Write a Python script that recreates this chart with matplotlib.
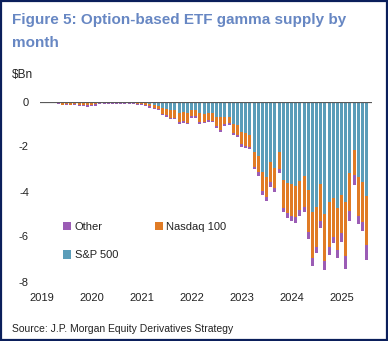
import matplotlib
matplotlib.use("Agg")
import matplotlib.pyplot as plt
from matplotlib.patches import Rectangle
import numpy as np

plt.rcParams["font.family"] = ["Liberation Sans", "DejaVu Sans"]
plt.rcParams["axes.unicode_minus"] = False

# Monthly gamma supply in $Bn, first month = Jan 2019 + start_month
start_month = 4
spx = [0.01, 0.02, 0.02, 0.02, 0.02, 0.02, 0.02, 0.02, 0.02, 0.02,
       0.02, 0.02, 0.02, 0.02, 0.02, 0.02, 0.02, 0.02, 0.02, 0.03,
       0.03, 0.05, 0.10, 0.15, 0.20, 0.29, 0.35, 0.39, 0.39, 0.50,
       0.47, 0.50, 0.39, 0.39, 0.52, 0.54, 0.50, 0.51, 0.68, 0.70,
       0.70, 0.68, 1.00, 1.04, 1.34, 1.41, 1.49, 2.23, 2.41, 3.15,
       3.34, 2.70, 2.97, 2.23, 3.49, 3.64, 3.67, 3.76, 3.52, 3.31,
       3.93, 4.90, 4.67, 3.67, 5.00, 4.45, 4.30, 4.75, 4.16, 4.45,
       3.16, 2.17, 3.36, 3.56, 4.22]
ndx = [0.06, 0.12, 0.10, 0.12, 0.10, 0.14, 0.13, 0.14, 0.12, 0.09,
       0.03, 0.03, 0.04, 0.04, 0.04, 0.05, 0.05, 0.04, 0.06, 0.08,
       0.09, 0.10, 0.11, 0.12, 0.12, 0.25, 0.26, 0.33, 0.34, 0.41,
       0.41, 0.44, 0.27, 0.27, 0.40, 0.36, 0.33, 0.35, 0.43, 0.56,
       0.30, 0.27, 0.42, 0.45, 0.56, 0.55, 0.52, 0.67, 0.74, 0.83,
       0.92, 0.89, 0.89, 0.77, 1.23, 1.33, 1.42, 1.39, 1.30, 1.36,
       1.86, 2.04, 1.78, 1.64, 2.09, 2.00, 1.71, 1.85, 1.70, 2.43,
       1.71, 1.11, 1.74, 1.79, 2.17]
other = [0.02, 0.02, 0.02, 0.02, 0.02, 0.03, 0.05, 0.07, 0.08, 0.07,
         0.04, 0.04, 0.05, 0.05, 0.05, 0.05, 0.05, 0.05, 0.05, 0.05,
         0.05, 0.05, 0.06, 0.06, 0.07, 0.07, 0.08, 0.07, 0.06, 0.10,
         0.08, 0.07, 0.09, 0.09, 0.07, 0.06, 0.06, 0.06, 0.07, 0.11,
         0.07, 0.08, 0.09, 0.10, 0.11, 0.09, 0.10, 0.10, 0.15, 0.18,
         0.15, 0.20, 0.18, 0.16, 0.21, 0.22, 0.21, 0.27, 0.27, 0.26,
         0.32, 0.37, 0.30, 0.30, 0.40, 0.37, 0.30, 0.37, 0.37, 0.57,
         0.42, 0.43, 0.35, 0.40, 0.66]

year_labels = ["2019", "2020", "2021", "2022", "2023", "2024", "2025"]
y_ticks = [0, -2, -4, -6, -8]

col_spx = "#5B9DB9"
col_ndx = "#E07B25"
col_oth = "#9B5CB5"

fig = plt.figure(figsize=(3.88, 3.41), dpi=100)
fig.patch.set_facecolor("white")

ax = fig.add_axes([40 / 388, 1 - 281.5 / 341, 332 / 388, 180 / 341])

x = start_month + np.arange(len(spx))
s = -np.array(spx)
n = -np.array(ndx)
o = -np.array(other)
w = 0.72
ax.bar(x, s, width=w, color=col_spx, linewidth=0, label="S&P 500")
ax.bar(x, n, width=w, bottom=s, color=col_ndx, linewidth=0, label="Nasdaq 100")
ax.bar(x, o, width=w, bottom=s + n, color=col_oth, linewidth=0, label="Other")

ax.axhline(0, color="#595959", lw=1.6, zorder=3)

ax.set_xlim(-0.4, 79.3)
ax.set_ylim(-8, 0)
ax.set_yticks(y_ticks)
ax.set_yticklabels([str(t) for t in y_ticks])
ax.set_xticks(np.arange(len(year_labels)) * 12)
ax.set_xticklabels(year_labels)
ax.tick_params(axis="both", length=0, labelsize=8, colors="#222222")
ax.tick_params(axis="x", pad=8)
ax.tick_params(axis="y", pad=8)
for sp in ax.spines.values():
    sp.set_visible(False)
ax.set_facecolor("none")

h, l = ax.get_legend_handles_labels()
order = [2, 0, 1]  # Other, S&P 500 | Nasdaq 100
leg = fig.legend([h[i] for i in order], [l[i] for i in order],
                 loc="upper left", bbox_to_anchor=(63 / 388, 1 - 222 / 341),
                 ncol=2, frameon=False, fontsize=8,
                 handlelength=0.75, handleheight=0.75, handletextpad=0.3,
                 labelspacing=1.65, columnspacing=3.3, borderpad=0,
                 borderaxespad=0)
for t in leg.get_texts():
    t.set_color("#222222")

fig.text(12 / 388, 1 - 24 / 341, "Figure 5: Option-based ETF gamma supply by",
         fontsize=11, fontweight="bold", color="#6787C3", va="baseline")
fig.text(12 / 388, 1 - 47 / 341, "month",
         fontsize=11, fontweight="bold", color="#6787C3", va="baseline")
fig.text(12 / 388, 1 - 78 / 341, "$Bn", fontsize=8.5, color="#222222",
         va="baseline")
fig.text(12.5 / 388, 1 - 332 / 341,
         "Source: J.P. Morgan Equity Derivatives Strategy",
         fontsize=7.5, color="#222222", va="baseline")

fig.patches.append(Rectangle((0.002, 0.002), 0.996, 0.996,
                             transform=fig.transFigure, fill=False,
                             edgecolor="#0B1F5B", linewidth=1.6))

fig.savefig("out.png", dpi=100)
